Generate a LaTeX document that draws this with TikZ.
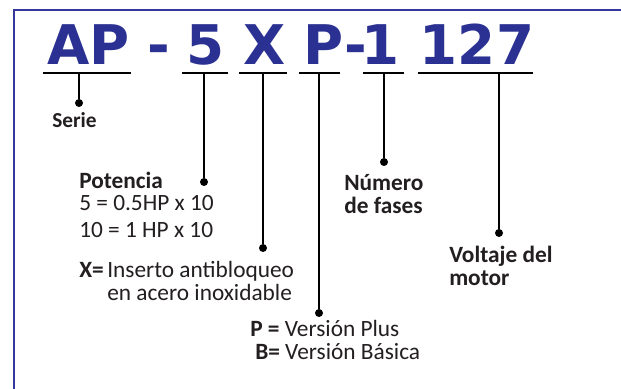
\documentclass[tikz,border=0pt]{standalone}
\usepackage{xcolor}
\usepackage{fontspec}
\setmainfont{Carlito}
\newfontfamily\codefont{DejaVu Sans}
\usepackage{tikz}

\definecolor{codeblue}{RGB}{43,49,146}
\definecolor{framblue}{RGB}{52,56,156}
\definecolor{lbltext}{RGB}{35,31,32}

\begin{document}
\begin{tikzpicture}[x=0.75pt,y=0.75pt,yscale=-1,xscale=1,
  codechar/.style={anchor=base,inner sep=0pt,text=codeblue,font=\codefont\bfseries\fontsize{41}{41}\selectfont},
  uline/.style={line width=1.6pt,black},
  stem/.style={line width=1.5pt,black},
  dot/.style={circle,fill=black,inner sep=0pt,minimum size=6pt},
  lbl/.style={anchor=base west,inner sep=0pt,text=lbltext,font=\fontsize{17.5}{17.25}\selectfont}]

\useasboundingbox (0,0) rectangle (621,389);
\fill[white] (0,0) rectangle (621,389);

% frame
\coordinate (fTop) at (621,10);
\coordinate (fCorner) at (14,10);
\coordinate (fBottom) at (14,389);
\draw[framblue,line width=1.9pt] (fTop) -- (fCorner) -- (fBottom);

% model code
\node[codechar] (cAP) at (88.5,64) {AP};
\node[codechar] (cDashA) at (159,64) {-};
\node[codechar] (cFive) at (205.5,64) {5};
\node[codechar] (cX) at (264.5,64) {X};
\node[codechar] (cP) at (323.5,64) {P};
\node[codechar] (cDashB) at (355.5,64) {-};
\node[codechar] (cOne) at (381,64) {1};
\node[codechar] (cVolt) at (477,64) {127};

% underlines
\draw[uline] (43,73) -- (131,73);
\draw[uline] (182,73) -- (228,73);
\draw[uline] (239,73) -- (287,73);
\draw[uline] (299,73) -- (340,73);
\draw[uline] (363,73) -- (404,73);
\draw[uline] (418,73) -- (533,73);

\coordinate (uAP) at (79,73);
\coordinate (uFive) at (204,73);
\coordinate (uX) at (263,73);
\coordinate (uP) at (319,73);
\coordinate (uOne) at (384,73);
\coordinate (uVolt) at (499,73);

% end dots
\node[dot] (dAP) at (79,103) {};
\node[dot] (dFive) at (204,182) {};
\node[dot] (dX) at (263,248) {};
\node[dot] (dP) at (319,313) {};
\node[dot] (dOne) at (384,162) {};
\node[dot] (dVolt) at (499,233) {};

\draw[stem] (uAP) -- (dAP);
\draw[stem] (uFive) -- (dFive);
\draw[stem] (uX) -- (dX);
\draw[stem] (uP) -- (dP);
\draw[stem] (uOne) -- (dOne);
\draw[stem] (uVolt) -- (dVolt);

% labels
\node[lbl,font=\bfseries\fontsize{16}{16}\selectfont] (lSerie) at (52,127) {Serie};

\node[lbl,font=\bfseries\fontsize{17.5}{17}\selectfont] (lPot) at (79,188) {Potencia};
\node[lbl] (lPotA) at (79,210) {5 = 0.5HP x 10};
\node[lbl] (lPotB) at (79,237) {10 = 1 HP x 10};

\node[lbl,font=\bfseries\fontsize{17.5}{17}\selectfont] (lXeq) at (79,277) {X=};
\node[lbl] (lXa) at (107,277) {Inserto antibloqueo};
\node[lbl] (lXb) at (107,300) {en acero inoxidable};

\node[lbl] (lPa) at (250,336) {\textbf{P =} Versión Plus};
\node[lbl] (lPb) at (255,359) {\textbf{B=} Versión Básica};

\node[lbl,font=\bfseries\fontsize{17.5}{17}\selectfont] (lFasA) at (344,190) {Número};
\node[lbl,font=\bfseries\fontsize{17.5}{17}\selectfont] (lFasB) at (344,213) {de fases};

\node[lbl,font=\bfseries\fontsize{17.5}{17}\selectfont] (lVolA) at (449,262) {Voltaje del};
\node[lbl,font=\bfseries\fontsize{17.5}{17}\selectfont] (lVolB) at (449,285) {motor};

\end{tikzpicture}
\end{document}
